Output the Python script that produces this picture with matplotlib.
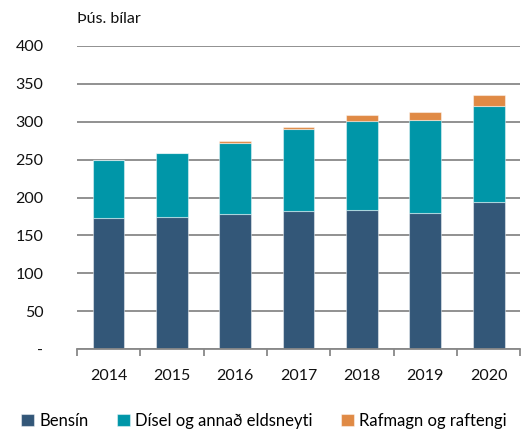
import numpy as np
import matplotlib.pyplot as plt

years = ['2014', '2015', '2016', '2017', '2018', '2019', '2020']
bensin = np.array([173, 174, 178, 182, 183, 179, 194])
disel = np.array([76, 84, 94, 108, 118, 123, 126])
rafmagn = np.array([0.5, 0.7, 1.8, 3.4, 7.5, 11, 15.4])
yticks = [0, 50, 100, 150, 200, 250, 300, 350, 400]
ylabels = ['-', '50', '100', '150', '200', '250', '300', '350', '400']

plt.rcParams['font.family'] = ['Lato', 'DejaVu Sans']

fig = plt.figure(figsize=(5.28, 4.32), dpi=100)
ax = fig.add_axes([0.1455, 0.1914, 0.84, 0.7028])

x = np.arange(len(years))
edge = dict(edgecolor=(1, 1, 1, 0.45), linewidth=0.8, width=0.5)
ax.bar(x, bensin, color='#335778', label='Bensín', **edge)
ax.bar(x, disel, bottom=bensin, color='#0096A8', label='Dísel og annað eldsneyti', **edge)
ax.bar(x, rafmagn, bottom=bensin + disel, color='#E08A45', label='Rafmagn og raftengi', **edge)

ax.set_xlim(-0.5, len(years) - 0.5)
ax.set_ylim(0, 400)
ax.set_yticks(yticks)
ax.set_yticklabels(ylabels)
ax.set_xticks(x)
ax.set_xticklabels(years)
ax.set_xticks(np.arange(len(years) + 1) - 0.5, minor=True)

ax.set_axisbelow(True)
ax.yaxis.grid(True, color='#888888', linewidth=1.3)
for s in ['top', 'right', 'left']:
    ax.spines[s].set_visible(False)
ax.spines['bottom'].set_color('#888888')
ax.spines['bottom'].set_linewidth(1.3)

ax.tick_params(axis='y', length=0, pad=24, labelsize=11.5, colors='#111111')
ax.tick_params(axis='x', which='major', length=0, pad=14, labelsize=11.5, colors='#111111')
ax.tick_params(axis='x', which='minor', length=5, width=1.3, color='#888888')

fig.text(0.145, 0.955, 'Þús. bílar', fontsize=11.5, va='center', ha='left', color='#111111')

fig.legend(loc='center', bbox_to_anchor=(0.5, 0.026), ncol=3, frameon=False,
           fontsize=12, handlelength=0.8, handleheight=0.8, handletextpad=0.3,
           columnspacing=1.7)

fig.savefig('out.png', dpi=100)
